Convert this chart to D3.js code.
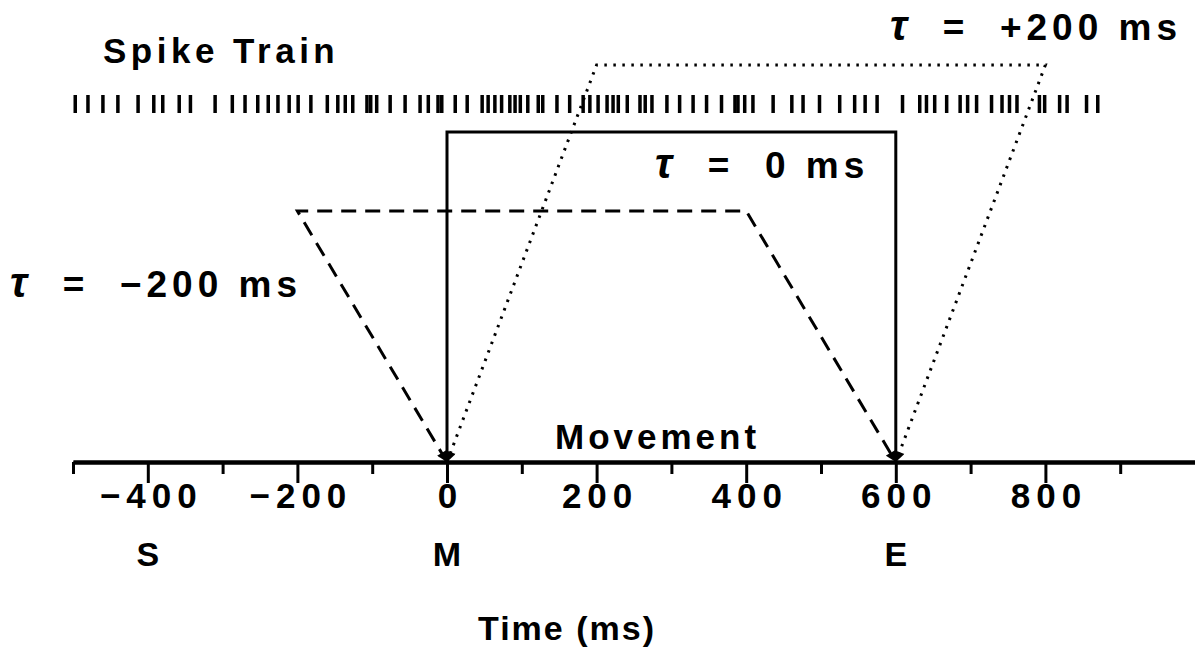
<!DOCTYPE html>
<html><head><meta charset="utf-8">
<script src="https://cdn.jsdelivr.net/npm/d3@7"></script>
<style>
body{margin:0;background:#fff;}
svg{display:block;}
text{font-family:"Liberation Sans",Arial,sans-serif;fill:#000;font-weight:bold;}
</style></head>
<body>
<svg id="chart" width="1195" height="665"></svg>
<script>
// ---- data ----
const majorTicks = [-400, -200, 0, 200, 400, 600, 800];
const minorTicks = [-500, -300, -100, 100, 300, 500, 700, 900];
const eventLabels = [["S", -400], ["M", 0], ["E", 600]];
const spikeTimes = [-497,-480,-460,-440,-413,-392,-380,-358,-343,-310,-287,-270,-253,-239,-226,-211,-199,-182,-160,-146,-136,-126,-107,-102,-94,-76,-56,-36,-25,-12,-7,11,27,47,55,64,73,84,91,98,108,122,128,147,164,182,191,202,214,222,229,241,258,265,274,294,311,329,347,367,385,389,398,409,436,461,476,498,525,545,559,575,609,632,641,652,668,686,696,708,728,742,752,762,792,799,819,829,855,870];
// windows: [start bottom, top-left, top-right, end bottom] times and window height
const windowTau0 = {times: [0, 0, 600, 600], height: 330};
const windowTauMinus = {times: [0, -200, 400, 600], height: 251};
const windowTauPlus = {times: [0, 200, 800, 600], height: 397};

const svg = d3.select("#chart");
const x = d3.scaleLinear().domain([-500, 1000]).range([73, 1195]);
const y = d3.scaleLinear().domain([0, 400]).range([462, 62]);

// markers
const defs = svg.append("defs");
defs.append("marker").attr("id","arr").attr("viewBox","0 0 10 10").attr("refX",10).attr("refY",5)
  .attr("markerWidth",4).attr("markerHeight",3.5).attr("orient","auto-start-reverse").attr("markerUnits","strokeWidth")
  .append("path").attr("d","M0,0L10,5L0,10z").attr("fill","#000");

// spike train
svg.append("g").selectAll("line").data(spikeTimes).join("line")
  .attr("x1", d => x(d)).attr("x2", d => x(d))
  .attr("y1", 95).attr("y2", 113)
  .attr("stroke", "#000").attr("stroke-width", 3.5);

function windowPath(w) {
  const pts = [[w.times[0], 0], [w.times[1], w.height], [w.times[2], w.height], [w.times[3], 0]];
  return d3.line().x(d => x(d[0])).y(d => y(d[1]))(pts);
}
svg.append("path").attr("d", windowPath(windowTau0)).attr("fill","none").attr("stroke","#000").attr("stroke-width",3);
svg.append("path").attr("d", windowPath(windowTauMinus)).attr("fill","none").attr("stroke","#000").attr("stroke-width",3)
  .attr("stroke-dasharray","15,9").attr("marker-start","url(#arr)").attr("marker-end","url(#arr)");
svg.append("path").attr("d", windowPath(windowTauPlus)).attr("fill","none").attr("stroke","#000").attr("stroke-width",3)
  .attr("stroke-dasharray","2.5,6.5").attr("marker-start","url(#arr)").attr("marker-end","url(#arr)");

// axis
const gMinor = svg.append("g").attr("transform","translate(0,462)")
  .call(d3.axisBottom(x).tickValues(minorTicks).tickSize(12).tickSizeOuter(0).tickFormat(""));
const gMajor = svg.append("g").attr("transform","translate(0,462)")
  .call(d3.axisBottom(x).tickValues(majorTicks).tickSize(21).tickSizeOuter(0)
    .tickFormat(d => d < 0 ? "\u2212" + Math.abs(d) : String(d)));
[gMinor, gMajor].forEach(g => {
  g.attr("font-family", null).attr("font-size", null);
  g.select(".domain").attr("stroke","#000").attr("stroke-width",4);
  g.selectAll(".tick line").attr("stroke","#000").attr("stroke-width",3);
});
gMajor.selectAll(".tick text").attr("y", 46).attr("dy", 0)
  .style("font-size","35px").style("letter-spacing","6px").attr("dx", 3).attr("fill","#000");

// event labels
svg.append("g").selectAll("text").data(eventLabels).join("text")
  .attr("x", d => x(d[1])).attr("y", 566).attr("text-anchor","middle")
  .style("font-size","34px").text(d => d[0]);

function label(txt, xx, yy, anchor, size, ls) {
  return svg.append("text").attr("x", xx).attr("y", yy).attr("text-anchor", anchor || "start")
    .style("font-size", (size||33) + "px").style("letter-spacing", (ls||0) + "px").text(txt);
}
function tauLabel(rest, xx, yy) {
  const t = svg.append("text").attr("x", xx).attr("y", yy).style("font-size","37px").style("letter-spacing","5px");
  t.append("tspan").style("font-style","italic").style("font-size","42px").text("\u03C4");
  t.append("tspan").attr("xml:space","preserve").text(rest);
  return t;
}
label("Spike Train", 103, 63, "start", 35, 4.5);
tauLabel("  =  +200 ms", 890, 40);
tauLabel("  =  0 ms", 655, 178);
tauLabel("  =  \u2212200 ms", 10, 297);
label("Movement", 555, 449, "start", 35, 4);
label("Time (ms)", 478, 640, "start", 34, 2);
</script>
</body></html>
